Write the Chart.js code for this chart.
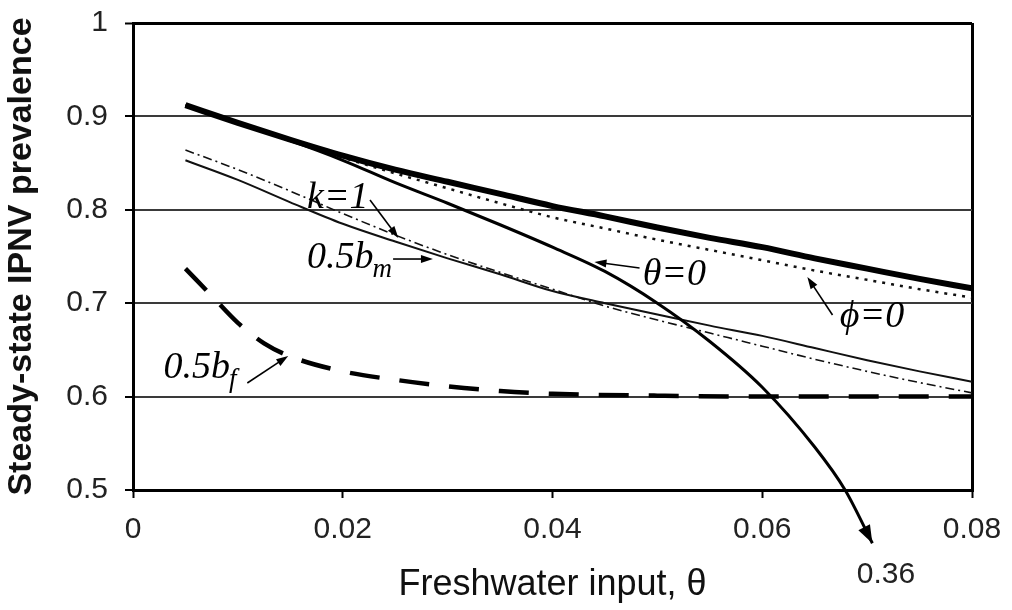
<!DOCTYPE html>
<html>
<head>
<meta charset="utf-8">
<script src="https://cdn.jsdelivr.net/npm/chart.js@4/dist/chart.umd.min.js"></script>
<style>
  html, body { margin: 0; padding: 0; background: #fff; }
  #wrap { width: 1012px; height: 610px; position: relative; }
</style>
</head>
<body>
<div id="wrap"><canvas id="c" width="1012" height="610"></canvas></div>
<script>
// ---- data ----
const xMain = [0.005, 0.01, 0.015, 0.02, 0.025, 0.03, 0.035, 0.04, 0.045, 0.05, 0.055, 0.06, 0.065, 0.07, 0.075, 0.08];
const baseline = [0.912, 0.893, 0.875, 0.858, 0.843, 0.830, 0.817, 0.804, 0.793, 0.781, 0.770, 0.760, 0.748, 0.737, 0.726, 0.716];
const phiZero  = [0.912, 0.893, 0.874, 0.856, 0.839, 0.823, 0.807, 0.792, 0.780, 0.768, 0.757, 0.746, 0.735, 0.725, 0.715, 0.706];
const kOne     = [0.864, 0.843, 0.820, 0.796, 0.773, 0.752, 0.733, 0.715, 0.697, 0.682, 0.668, 0.654, 0.640, 0.627, 0.615, 0.604];
const halfBm   = [0.853, 0.832, 0.808, 0.785, 0.766, 0.748, 0.731, 0.713, 0.700, 0.688, 0.676, 0.665, 0.652, 0.639, 0.627, 0.616];
const thetaZeroX = [0.005, 0.01, 0.015, 0.02, 0.025, 0.03, 0.035, 0.04, 0.045, 0.05, 0.055, 0.06, 0.065, 0.0679, 0.0705];
const thetaZeroY = [0.912, 0.893, 0.874, 0.853, 0.829, 0.807, 0.784, 0.760, 0.734, 0.700, 0.659, 0.610, 0.546, 0.500, 0.443];
const halfBfX = [0.005, 0.0075, 0.01, 0.0125, 0.015, 0.02, 0.025, 0.03, 0.035, 0.04, 0.05, 0.06, 0.07, 0.08];
const halfBfY = [0.737, 0.708, 0.679, 0.657, 0.643, 0.627, 0.618, 0.611, 0.606, 0.603, 0.601, 0.600, 0.600, 0.600];

const xTickValues = [0, 0.02, 0.04, 0.06, 0.08];
const xTickLabels = ['0', '0.02', '0.04', '0.06', '0.08'];
const yTickValues = [0.5, 0.6, 0.7, 0.8, 0.9, 1];
const yTickLabels = ['0.5', '0.6', '0.7', '0.8', '0.9', '1'];

const xTitle = 'Freshwater input, \u03b8';
const yTitle = 'Steady-state IPNV prevalence';
const offscaleLabel = {text: '0.36', x: 0.0718, y: 0.4004};

// curve labels (anchored in data units)
const curveLabels = [
  {text: 'k=1', sub: '', x: 0.0166, y: 0.802, tail: [0.0226, 0.8105], head: [0.0253, 0.7698]},
  {text: '0.5b', sub: 'm', x: 0.0166, y: 0.7377, tail: [0.0248, 0.7473], head: [0.0286, 0.7473]},
  {text: '\u03b8=0', sub: '', x: 0.0486, y: 0.7195, tail: [0.0483, 0.7377], head: [0.0440, 0.7441]},
  {text: '\u03d5=0', sub: '', x: 0.0674, y: 0.6745, tail: [0.0667, 0.6874], head: [0.0643, 0.7281]},
  {text: '0.5b', sub: 'f', x: 0.0029, y: 0.6199, tail: [0.0109, 0.6146], head: [0.0148, 0.6435]}
];

const pts = (xs, ys) => xs.map((x, i) => ({x: x, y: ys[i]}));

function arrowHead(ctx, x1, y1, x2, y2, len, wid) {
  const a = Math.atan2(y2 - y1, x2 - x1);
  ctx.beginPath();
  ctx.moveTo(x2, y2);
  ctx.lineTo(x2 - len * Math.cos(a) + wid / 2 * Math.sin(a), y2 - len * Math.sin(a) - wid / 2 * Math.cos(a));
  ctx.lineTo(x2 - len * Math.cos(a) - wid / 2 * Math.sin(a), y2 - len * Math.sin(a) + wid / 2 * Math.cos(a));
  ctx.closePath();
  ctx.fill();
}

const labelPlugin = {
  id: 'curveLabels',
  afterDatasetsDraw(chart) {
    const ctx = chart.ctx;
    const xs = chart.scales.x, ys = chart.scales.y;
    ctx.save();
    ctx.fillStyle = '#000';
    ctx.strokeStyle = '#000';
    // arrow at the end of the theta=0 curve
    const n = thetaZeroX.length;
    const ex = xs.getPixelForValue(thetaZeroX[n - 1]), ey = ys.getPixelForValue(thetaZeroY[n - 1]);
    const px = xs.getPixelForValue(thetaZeroX[n - 2]), py = ys.getPixelForValue(thetaZeroY[n - 2]);
    arrowHead(ctx, px, py, ex, ey, 18, 13);
    // off-scale value label
    ctx.font = '30px "Liberation Sans", Arial, sans-serif';
    ctx.textAlign = 'center';
    ctx.textBaseline = 'alphabetic';
    ctx.fillStyle = '#222';
    ctx.fillText(offscaleLabel.text, xs.getPixelForValue(offscaleLabel.x), ys.getPixelForValue(offscaleLabel.y));
    ctx.fillStyle = '#000';
    // curve labels
    ctx.textAlign = 'left';
    curveLabels.forEach(l => {
      const lx = xs.getPixelForValue(l.x), ly = ys.getPixelForValue(l.y);
      ctx.font = 'italic 38px "Liberation Serif", "Times New Roman", serif';
      ctx.fillText(l.text, lx, ly);
      if (l.sub) {
        const w = ctx.measureText(l.text).width;
        ctx.font = 'italic 27px "Liberation Serif", "Times New Roman", serif';
        ctx.fillText(l.sub, lx + w - 1, ly + 9);
      }
      const tx = xs.getPixelForValue(l.tail[0]), ty = ys.getPixelForValue(l.tail[1]);
      const hx = xs.getPixelForValue(l.head[0]), hy = ys.getPixelForValue(l.head[1]);
      ctx.lineWidth = 1.6;
      ctx.beginPath();
      ctx.moveTo(tx, ty);
      const a = Math.atan2(hy - ty, hx - tx);
      ctx.lineTo(hx - 8 * Math.cos(a), hy - 8 * Math.sin(a));
      ctx.stroke();
      arrowHead(ctx, tx, ty, hx, hy, 12, 8);
    });
    ctx.restore();
  }
};

Chart.defaults.font.family = '"Liberation Sans", Arial, sans-serif';
Chart.defaults.color = '#222';

new Chart(document.getElementById('c'), {
  type: 'line',
  data: {
    datasets: [
      {label: 'baseline', data: pts(xMain, baseline), borderColor: '#000', borderWidth: 6, pointRadius: 0, cubicInterpolationMode: 'monotone', order: 1},
      {label: '\u03d5=0', data: pts(xMain, phiZero), borderColor: '#111', borderWidth: 2.5, borderDash: [3, 6], pointRadius: 0, cubicInterpolationMode: 'monotone', order: 2},
      {label: 'k=1', data: pts(xMain, kOne), borderColor: '#111', borderWidth: 1.6, borderDash: [9, 4, 2, 4], pointRadius: 0, cubicInterpolationMode: 'monotone', order: 3},
      {label: '0.5bm', data: pts(xMain, halfBm), borderColor: '#111', borderWidth: 2, pointRadius: 0, cubicInterpolationMode: 'monotone', order: 4},
      {label: '\u03b8=0', data: pts(thetaZeroX, thetaZeroY), borderColor: '#000', borderWidth: 3, pointRadius: 0, cubicInterpolationMode: 'monotone', clip: false, order: 0},
      {label: '0.5bf', data: pts(halfBfX, halfBfY), borderColor: '#000', borderWidth: 4.5, borderDash: [30, 20], pointRadius: 0, cubicInterpolationMode: 'monotone', order: 5}
    ]
  },
  options: {
    responsive: false,
    animation: false,
    devicePixelRatio: 1,
    layout: {padding: {top: 23, right: 40, bottom: 0, left: 0}},
    plugins: {legend: {display: false}, tooltip: {enabled: false}},
    scales: {
      x: {
        type: 'linear', min: 0, max: 0.08,
        afterFit(scale) { scale.height = 120; scale.paddingLeft = 0; scale.paddingRight = 0; },
        afterBuildTicks(scale) { scale.ticks = xTickValues.map(v => ({value: v})); },
        ticks: {
          callback: (v, i) => xTickLabels[i],
          font: {size: 30}, color: '#222', padding: 14, maxRotation: 0, autoSkip: false
        },
        grid: {
          display: true, drawOnChartArea: true, drawTicks: true,
          color: ctx => (ctx.tick && ctx.tick.value === 0.08) ? '#000' : 'rgba(0,0,0,0)',
          lineWidth: 3, tickColor: '#000', tickWidth: 2, tickLength: 8
        },
        border: {display: true, color: '#000', width: 3},
        title: {display: true, text: xTitle, font: {size: 36}, color: '#111', padding: {top: 3, bottom: 3}}
      },
      y: {
        type: 'linear', min: 0.5, max: 1,
        afterFit(scale) { scale.width = 133; scale.paddingTop = 0; scale.paddingBottom = 0; },
        afterBuildTicks(scale) { scale.ticks = yTickValues.map(v => ({value: v})); },
        ticks: {
          callback: (v, i) => yTickLabels[i],
          font: {size: 30}, color: '#222', padding: 17, autoSkip: false
        },
        grid: {
          display: true, drawOnChartArea: true, drawTicks: true,
          color: ctx => (ctx.tick && ctx.tick.value === 1) ? '#000' : (ctx.tick && ctx.tick.value === 0.5 ? 'rgba(0,0,0,0)' : '#3a3a3a'),
          lineWidth: ctx => (ctx.tick && ctx.tick.value === 1) ? 3 : 2,
          tickColor: '#000', tickWidth: 2, tickLength: 8
        },
        border: {display: true, color: '#000', width: 3},
        title: {display: true, text: yTitle, font: {size: 34, weight: 'bold'}, color: '#111', padding: {top: 1, bottom: 0}}
      }
    }
  },
  plugins: [labelPlugin]
});
</script>
</body>
</html>
